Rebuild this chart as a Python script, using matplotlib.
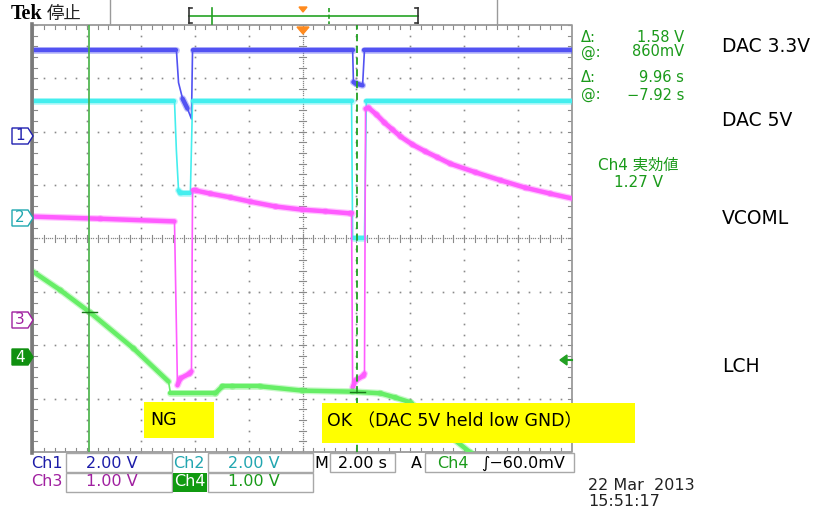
import matplotlib
matplotlib.use("Agg")
import matplotlib.pyplot as plt
from matplotlib.patches import Rectangle, Polygon
from matplotlib.lines import Line2D
from matplotlib.collections import LineCollection
import numpy as np

W, H = 818, 514
GL, GT, GR, GB = 33, 25, 572, 452   # graticule box in pixels

# ---------------- data ----------------
# channel settings: volts per division, ground position (divisions from centre)
ch_scale = {1: 2.0, 2: 2.0, 3: 1.0, 4: 1.0}
ch_pos = {1: 1.91, 2: 0.375, 3: -1.54, 4: -2.23}
ch_color = {1: "#5252f2", 2: "#44eeee", 3: "#ff5cff", 4: "#66ee66"}

# Ch1  DAC 3.3V  (time s, volts)
ch1_t = [-10.0, -4.68, -4.60, -4.45, -4.27, -4.12, -4.08, 1.86, 1.89, 2.00, 2.23, 2.30, 10.0]
ch1_v = [3.26, 3.26, 2.02, 1.42, 1.05, 0.66, 3.26, 3.26, 2.04, 1.98, 1.92, 3.26, 3.26]

# Ch2  DAC 5V
ch2_t = [-10.0, -4.75, -4.68, -4.60, -4.53, -4.16, -4.08, 1.82, 1.86, 2.30, 2.37, 10.0]
ch2_v = [4.42, 4.42, 2.55, 1.05, 0.97, 0.97, 4.42, 4.42, -0.75, -0.75, 4.42, 4.42]

# Ch3  VCOML
ch3_t = [-10.0, -7.50, -4.75, -4.64, -4.53, -4.19, -4.12, -4.08,
         -3.97, -3.41, -2.67, -1.93, -1.00, 0.0, 0.85, 1.78,
         1.82, 1.86, 1.97, 2.26, 2.30, 2.34,
         2.45, 2.75, 3.04, 3.34, 3.64, 4.08, 4.56, 5.01, 5.49, 6.42, 7.35, 8.28, 9.20, 10.0]
ch3_v = [1.95, 1.91, 1.86, -1.21, -1.08, -0.99, -0.95, 2.44,
         2.44, 2.38, 2.31, 2.23, 2.14, 2.08, 2.05, 2.01,
         2.01, -1.25, -1.12, -1.03, -0.99, 3.97,
         3.99, 3.86, 3.71, 3.58, 3.45, 3.30, 3.17, 3.06, 2.94, 2.78, 2.63, 2.49, 2.38, 2.29]

# Ch4  LCH
ch4_t = [-10.0, -8.98, -7.87, -6.27, -4.97, -4.90, -3.23, -2.97, -2.60, -1.56, 0.0,
         1.86, 2.89, 3.45, 4.01, 5.12, 6.23, 6.61]
ch4_v = [1.61, 1.26, 0.84, 0.17, -0.45, -0.67, -0.67, -0.54, -0.54, -0.54, -0.62,
         -0.64, -0.67, -0.75, -0.84, -1.33, -1.78, -1.93]

cursor_t = [-7.92, 2.04]
trace_labels = ["DAC 3.3V", "DAC 5V", "VCOML", "LCH"]
trace_label_y = [47, 120, 218, 367]

readouts = [("Δ:", "1.58 V", 37), ("@:", "860mV", 52), ("Δ:", "9.96 s", 78), ("@:", "\u22127.92 s", 95)]

# ---------------- figure ----------------
fig = plt.figure(figsize=(W / 100, H / 100), dpi=100)
fig.patch.set_facecolor("white")

def fx(x):
    return x / W

def fy(y):
    return 1 - y / H

ax = fig.add_axes([fx(GL), fy(GB), (GR - GL) / W, (GB - GT) / H])
ax.set_xlim(-10, 10)
ax.set_ylim(-4, 4)
ax.axis("off")

grid_c = "#8a8a8a"
# major dotted grid
for t in np.arange(-8, 9, 2):
    if t == 0:
        continue
    ys = np.arange(-4, 4.01, 0.2)
    ax.plot(np.full_like(ys, t), ys, ls="none", marker="s", ms=1.2, mec="none", mfc=grid_c, zorder=1)
for y in range(-3, 4):
    if y == 0:
        continue
    ts = np.arange(-10, 10.01, 0.4)
    ax.plot(ts, np.full_like(ts, y), ls="none", marker="s", ms=1.2, mec="none", mfc=grid_c, zorder=1)
# centre lines (dense dots + ticks)
ts = np.arange(-10, 10.01, 0.08)
ax.plot(ts, np.zeros_like(ts), ls="none", marker="s", ms=0.9, mec="none", mfc=grid_c, zorder=1)
ys = np.arange(-4, 4.01, 0.04)
ax.plot(np.zeros_like(ys), ys, ls="none", marker="s", ms=0.9, mec="none", mfc=grid_c, zorder=1)
for t in np.arange(-10, 10.01, 0.4):
    ax.plot([t, t], [-0.07, 0.07], color=grid_c, lw=0.8, zorder=1)
    ax.plot([t, t], [3.93, 4.0], color=grid_c, lw=0.8, zorder=1)
    ax.plot([t, t], [-4.0, -3.93], color=grid_c, lw=0.8, zorder=1)
for y in np.arange(-4, 4.01, 0.2):
    ax.plot([-0.14, 0.14], [y, y], color=grid_c, lw=0.8, zorder=1)
    ax.plot([-10, -9.86], [y, y], color=grid_c, lw=0.8, zorder=1)
    ax.plot([9.86, 10], [y, y], color=grid_c, lw=0.8, zorder=1)

# traces
def draw_trace(t, v, ch):
    y = np.array(v) / ch_scale[ch] + ch_pos[ch]
    t = np.array(t)
    col = ch_color[ch]
    ax.plot(t, y, color=col, lw=1.2, zorder=3, solid_capstyle="butt")
    segs = []
    for i in range(len(t) - 1):
        dxp = (t[i + 1] - t[i]) * 26.95
        dyp = (y[i + 1] - y[i]) * 53.4
        if abs(dxp) > 0.1 and abs(dyp / dxp) < 2.5:
            segs.append([(t[i], y[i]), (t[i + 1], y[i + 1])])
    ax.add_collection(LineCollection(segs, colors=col, linewidths=5.0, alpha=0.35, zorder=3,
                                     capstyle="round", joinstyle="round"))
    ax.add_collection(LineCollection(segs, colors=col, linewidths=3.2, zorder=3,
                                     capstyle="round", joinstyle="round"))

draw_trace(ch1_t, ch1_v, 1)
draw_trace(ch2_t, ch2_v, 2)
draw_trace(ch3_t, ch3_v, 3)
draw_trace(ch4_t, ch4_v, 4)

# cursors
ax.axvline(cursor_t[0], color="#44b044", lw=1.2, zorder=4)
ax.axvline(cursor_t[1], color="#22a022", lw=1.3, ls=(0, (4, 2.5)), zorder=4)
# cursor cross marks on ch4
for ct in cursor_t:
    cy = np.interp(ct, ch4_t, ch4_v) / ch_scale[4] + ch_pos[4]
    ax.plot([ct - 0.28, ct + 0.28], [cy, cy], color="#1a7a1a", lw=1.0, zorder=5)

# frame
ax.plot([-10, 10, 10, -10, -10], [-4, -4, 4, 4, -4], color="#9a9a9a", lw=1.3, zorder=2, clip_on=False)
fig.add_artist(Line2D([fx(GL - 1), fx(GL - 1)], [fy(GB + 1), fy(GT - 1)], color="#7a7a7a", lw=2.6))

# trigger marker (orange) at top
fig.add_artist(Polygon([[fx(297), fy(27)], [fx(309), fy(27)], [fx(303), fy(34)]], closed=True,
                       transform=fig.transFigure, color="#ff8a1e", zorder=6))

# trigger level arrow (right)
fig.add_artist(Polygon([[fx(560), fy(360)], [fx(567), fy(355)], [fx(567), fy(365)]], closed=True,
                       transform=fig.transFigure, color="#22a022", zorder=6))
fig.add_artist(Line2D([fx(566), fx(572)], [fy(360), fy(360)], color="#22a022", lw=1.5))

# channel ground markers
def ch_marker(ycen, label, edge, fill, tcol):
    pts = [[12, ycen - 8], [28, ycen - 8], [33, ycen], [28, ycen + 8], [12, ycen + 8]]
    fig.add_artist(Polygon([[fx(a), fy(b)] for a, b in pts], closed=True, transform=fig.transFigure,
                           facecolor=fill, edgecolor=edge, lw=1.0, zorder=6))
    fig.text(fx(20), fy(ycen), label, color=tcol, fontsize=11, ha="center", va="center",
             family="DejaVu Sans", zorder=7)

ch_marker(136, "1", "#2020b0", "white", "#2020b0")
ch_marker(218, "2", "#20a8b0", "white", "#20a8b0")
ch_marker(320, "3", "#a020a0", "white", "#a020a0")
ch_marker(357, "4", "#109010", "#109010", "white")

# ---------------- top bar ----------------
fig.text(fx(11), fy(14), "Tek", family="Liberation Serif", weight="bold", fontsize=14.5,
         ha="left", va="center", color="black")
fig.text(fx(47), fy(14), "停止", family=["Noto Sans CJK JP", "DejaVu Sans"], fontsize=12.5,
         ha="left", va="center", color="#222222")
for xs in (110, 497):
    fig.add_artist(Line2D([fx(xs), fx(xs)], [fy(0), fy(24)], color="#9a9a9a", lw=1.0))
fig.add_artist(Line2D([fx(189), fx(418)], [fy(16), fy(16)], color="#44b044", lw=1.4))
for xb, d in ((189, 1), (418, -1)):
    fig.add_artist(Line2D([fx(xb), fx(xb)], [fy(8), fy(23)], color="#333333", lw=1.2))
    fig.add_artist(Line2D([fx(xb), fx(xb + 3 * d)], [fy(8), fy(8)], color="#333333", lw=1.2))
    fig.add_artist(Line2D([fx(xb), fx(xb + 3 * d)], [fy(23), fy(23)], color="#333333", lw=1.2))
fig.add_artist(Line2D([fx(212), fx(212)], [fy(8), fy(24)], color="#22a022", lw=1.2))
fig.add_artist(Line2D([fx(329), fx(329)], [fy(8), fy(24)], color="#22a022", lw=1.2, ls=(0, (2.5, 1.5))))
fig.add_artist(Polygon([[fx(299), fy(7)], [fx(307), fy(7)], [fx(303), fy(12)]], closed=True,
                       transform=fig.transFigure, color="#ff8a1e"))

# ---------------- right readouts ----------------
green_txt = "#1a9a1a"
for sym, val, yy in readouts:
    fig.text(fx(581), fy(yy), sym, color=green_txt, fontsize=10.5, family="DejaVu Sans",
             ha="left", va="center")
    fig.text(fx(684), fy(yy), val, color=green_txt, fontsize=10.5, family="DejaVu Sans",
             ha="right", va="center")
fig.text(fx(638), fy(165), "Ch4 実効値", color=green_txt, fontsize=11,
         family=["DejaVu Sans", "Noto Sans CJK JP"], ha="center", va="center")
fig.text(fx(639), fy(182), "1.27 V", color=green_txt, fontsize=11, family="DejaVu Sans",
         ha="center", va="center")

for lab, yy in zip(trace_labels, trace_label_y):
    fig.text(fx(722), fy(yy), lab, color="black", fontsize=13.5, family="DejaVu Sans",
             ha="left", va="center")

# ---------------- yellow annotation boxes ----------------
fig.add_artist(Rectangle((fx(144), fy(438)), 70 / W, 36 / H, transform=fig.transFigure,
                         facecolor="#ffff00", edgecolor="none", zorder=20))
fig.text(fx(150), fy(420), "NG", fontsize=12.5, family="DejaVu Sans", color="black",
         ha="left", va="center", zorder=21)
fig.add_artist(Rectangle((fx(322), fy(443)), 313 / W, 40 / H, transform=fig.transFigure,
                         facecolor="#ffff00", edgecolor="none", zorder=20))
fig.text(fx(327), fy(421), "OK \uff08DAC 5V held low GND\uff09", fontsize=12.5,
         family=["DejaVu Sans", "Noto Sans CJK JP"], color="black",
         ha="left", va="center", zorder=21)

# ---------------- status bar ----------------
def box(x0, y0, x1, y1, fill="none"):
    fig.add_artist(Rectangle((fx(x0), fy(y1)), (x1 - x0) / W, (y1 - y0) / H, transform=fig.transFigure,
                             facecolor=fill, edgecolor="#a8a8a8", lw=1.0))

box(66, 453, 172, 472)
box(208, 453, 313, 472)
box(330, 453, 395, 472)
box(425, 453, 574, 472)
box(66, 473, 172, 492)
box(208, 473, 313, 492)
fig.add_artist(Rectangle((fx(173), fy(492)), 34 / W, 19 / H, transform=fig.transFigure,
                         facecolor="#109a10", edgecolor="none"))

sfs = 11.5
def st(x, y, s, c, ha="left"):
    fig.text(fx(x), fy(y), s, color=c, fontsize=sfs, family="DejaVu Sans", ha=ha, va="center")

st(31, 463, "Ch1", "#1c1ca8")
st(112, 463, "2.00 V", "#1c1ca8", "center")
st(173, 463, "Ch2", "#22a6b0")
st(254, 463, "2.00 V", "#22a6b0", "center")
st(314, 463, "M", "black")
st(362, 463, "2.00 s", "black", "center")
st(411, 463, "A", "black")
st(437, 463, "Ch4", "#1a9a1a")
st(481, 463, "\u222b\u221260.0mV", "black")
st(31, 482, "Ch3", "#a020a0")
st(112, 482, "1.00 V", "#a020a0", "center")
st(174, 482, "Ch4", "white")
st(254, 482, "1.00 V", "#1a9a1a", "center")
st(588, 485, "22 Mar  2013", "#222222")
st(588, 502, "15:51:17", "#222222")

fig.savefig("out.png", dpi=100, facecolor="white")
